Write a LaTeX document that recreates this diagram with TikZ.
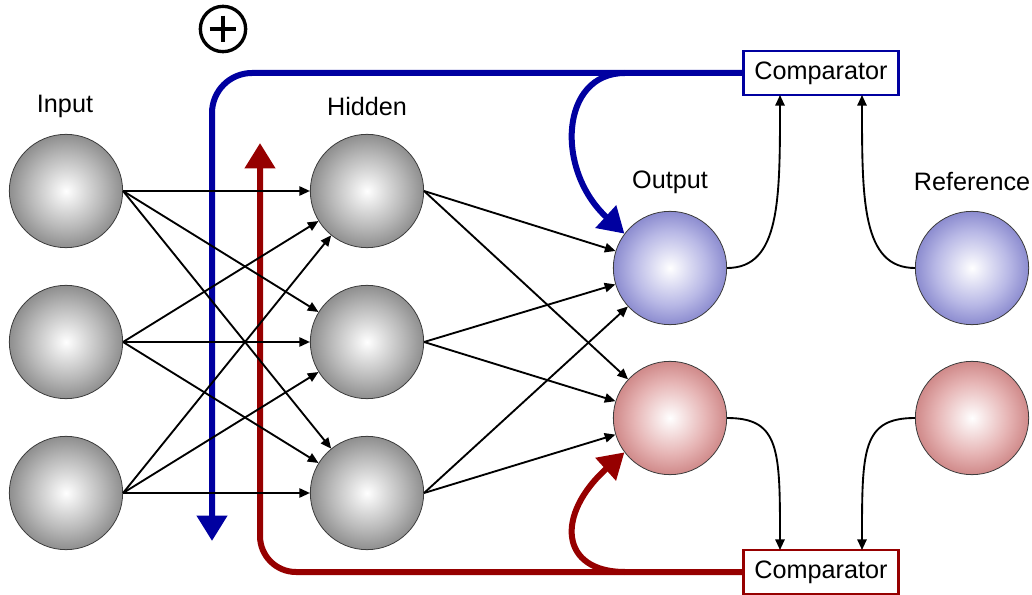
\documentclass[tikz,border=0pt]{standalone}
\usepackage{fontspec}
\setmainfont{Liberation Sans}
\usetikzlibrary{arrows.meta}
\definecolor{fbblue}{RGB}{0,0,160}
\definecolor{fbred}{RGB}{150,0,0}
\definecolor{greymid}{RGB}{185,185,185}
\definecolor{greyedge}{RGB}{100,100,100}
\definecolor{bluemid}{RGB}{185,185,230}
\definecolor{blueedge}{RGB}{95,95,185}
\definecolor{redmid}{RGB}{230,180,180}
\definecolor{rededge}{RGB}{185,95,95}
\pgfdeclareradialshading{greyball}{\pgfpoint{0bp}{0bp}}{color(0bp)=(white); color(16bp)=(greymid); color(34bp)=(greyedge); color(50bp)=(greyedge)}
\pgfdeclareradialshading{blueball}{\pgfpoint{0bp}{0bp}}{color(0bp)=(white); color(16bp)=(bluemid); color(34bp)=(blueedge); color(50bp)=(blueedge)}
\pgfdeclareradialshading{redball}{\pgfpoint{0bp}{0bp}}{color(0bp)=(white); color(16bp)=(redmid); color(34bp)=(rededge); color(50bp)=(rededge)}

\begin{document}
\begin{tikzpicture}[x=0.75pt,y=0.75pt,yscale=-1,xscale=1,
  sphere/.style={circle, draw={rgb,255:red,60;green,60;blue,60}, line width=0.6pt, minimum size=85pt, inner sep=0pt},
  lbl/.style={font=\fontsize{18.9pt}{22pt}\selectfont},
  cmpbox/.style={draw, fill=white, line width=2pt, minimum width=116pt, minimum height=33pt, inner sep=0pt, font=\fontsize{18.9pt}{22pt}\selectfont},
  wire/.style={line width=1.4pt, -{Triangle[length=8pt,width=7pt]}},
  fbline/.style={line width=4.5pt, -{Triangle[length=19pt,width=22pt]}}]
\path[use as bounding box] (0,0) rectangle (1032,595);

%Input layer
\node[sphere, shading=greyball] (in1) at (66,191) {};
\node[sphere, shading=greyball] (in2) at (66,342) {};
\node[sphere, shading=greyball] (in3) at (66,493) {};
%Hidden layer
\node[sphere, shading=greyball] (hid1) at (367,191) {};
\node[sphere, shading=greyball] (hid2) at (367,342) {};
\node[sphere, shading=greyball] (hid3) at (367,493) {};
%Output and reference
\node[sphere, shading=blueball] (out1) at (670,268) {};
\node[sphere, shading=redball] (out2) at (670,418) {};
\node[sphere, shading=blueball] (ref1) at (972,268) {};
\node[sphere, shading=redball] (ref2) at (972,418) {};

%Labels
\node[lbl] (lin) at (65,106) {Input};
\node[lbl] (lhid) at (367,106) {Hidden};
\node[lbl] (lout) at (670,182) {Output};
\node[lbl] (lref) at (972,182) {Reference};

%Comparators
\node[cmpbox, draw=fbblue] (cmp1) at (821,73) {Comparator};
\node[cmpbox, draw=fbred] (cmp2) at (821,572) {Comparator};

%Plus sign
\node[circle, draw, line width=2.5pt, minimum size=34pt, inner sep=0pt] (plus) at (223,29) {};
\draw[line width=3pt] ([xshift=-10pt]plus.center) -- ([xshift=10pt]plus.center);
\draw[line width=3pt] ([yshift=-10pt]plus.center) -- ([yshift=10pt]plus.center);

%Feedback paths
\coordinate (bluetip) at (212,541);
\coordinate (bluebr) at (625,73);
\coordinate (redtip) at (260,143);
\coordinate (redbr) at (625,572);
\draw[fbline, fbblue, rounded corners=30pt] (cmp1.west) -| (bluetip);
\draw[fbline, fbblue] (bluebr) .. controls (560,73) and (555,170) .. (out1.143);
\draw[fbline, fbred, rounded corners=27pt] (cmp2.west) -| (redtip);
\draw[fbline, fbred] (redbr) .. controls (560,572) and (555,515) .. (out2.217);

%Input to hidden
\foreach \i in {1,2,3}
  \foreach \j in {1,2,3}
    \draw[wire] (in\i.east) -- (hid\j);
%Hidden to output
\foreach \i in {1,2,3}
  \foreach \j in {1,2}
    \draw[wire] (hid\i.east) -- (out\j);

%Into the comparators
\coordinate (c1l) at (780,95);
\coordinate (c1r) at (862,95);
\coordinate (c2l) at (780,550);
\coordinate (c2r) at (862,550);
\draw[wire] (out1.east) .. controls (780,268) and (780,200) .. (c1l);
\draw[wire] (ref1.west) .. controls (862,268) and (862,200) .. (c1r);
\draw[wire] (out2.east) .. controls (780,418) and (780,450) .. (c2l);
\draw[wire] (ref2.west) .. controls (862,418) and (862,450) .. (c2r);

\end{tikzpicture}
\end{document}
